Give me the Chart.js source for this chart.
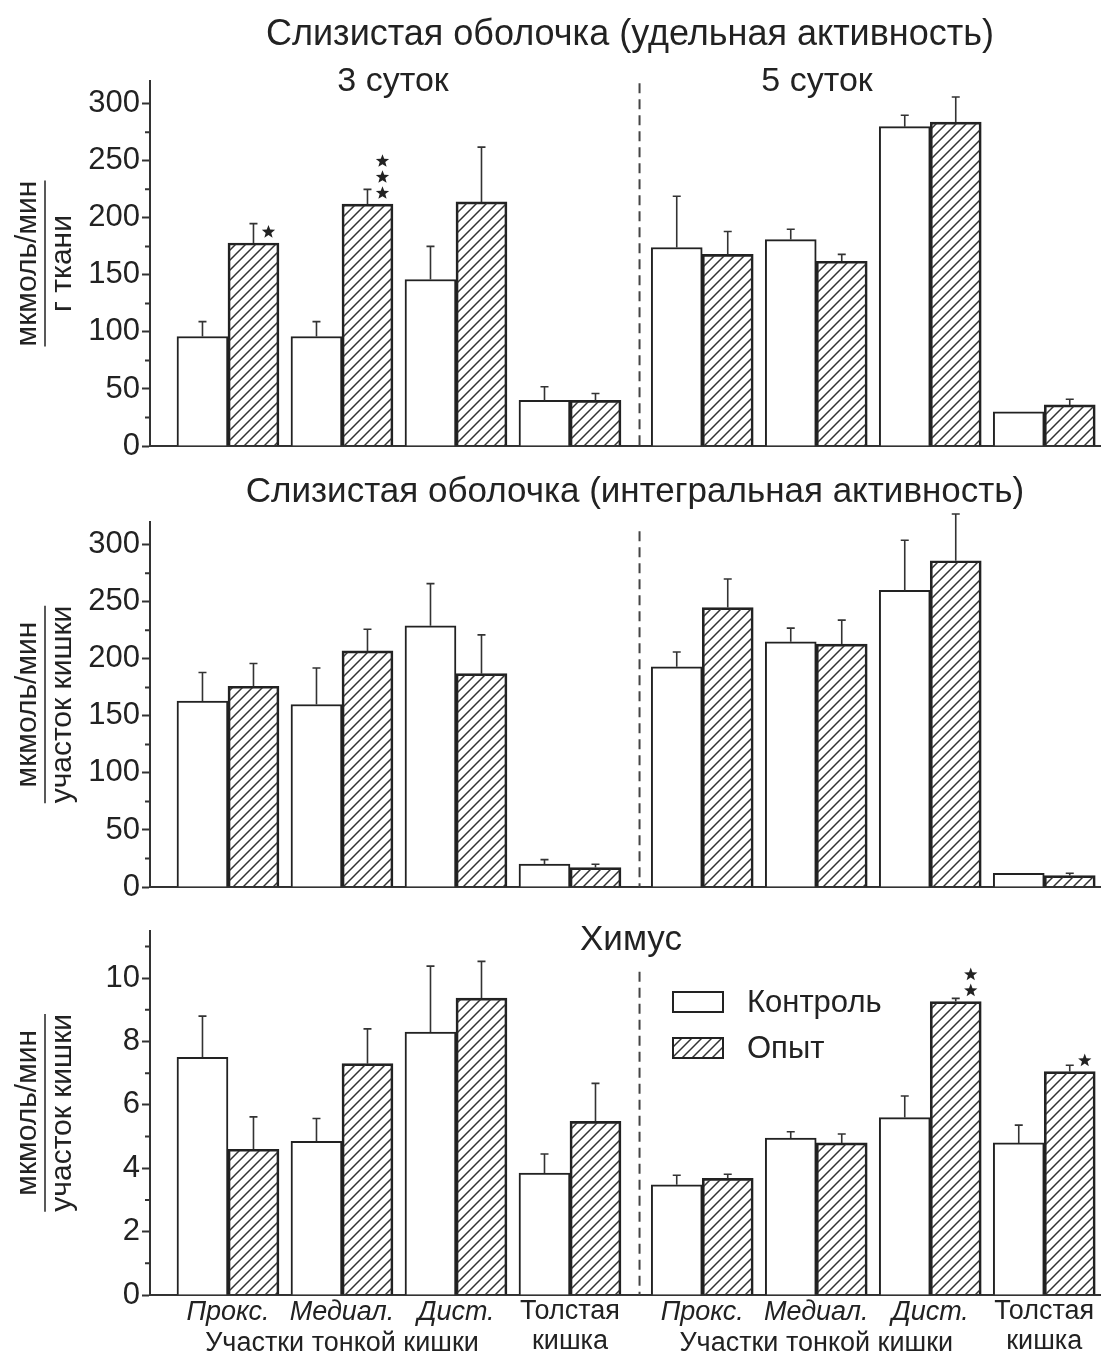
<!DOCTYPE html>
<html>
<head>
<meta charset="utf-8">
<script src="https://cdn.jsdelivr.net/npm/chart.js@4.4.0/dist/chart.umd.min.js"></script>
<style>
  body { margin: 0; background: #fff; }
  #wrap { position: relative; width: 1102px; height: 1362px; }
  canvas { position: absolute; left: 0; }
</style>
</head>
<body>
<div id="wrap">
  <canvas id="c1" width="1102" height="470" style="top:0px"></canvas>
  <canvas id="c2" width="1102" height="440" style="top:470px"></canvas>
  <canvas id="c3" width="1102" height="452" style="top:910px"></canvas>
</div>
<script>
// categories (4 gut parts x 2 time points)
const xCats = ['Прокс.', 'Медиал.', 'Дист.', 'Толстая\nкишка', 'Прокс.', 'Медиал.', 'Дист.', 'Толстая\nкишка']
const italicCats = [true, true, true, false, true, true, true, false]
const seriesNames = ['Контроль', 'Опыт']

// Слизистая оболочка, удельная активность
const specCtrl = [96, 96, 146, 40, 174, 181, 280, 30]
const specCtrlErr = [13, 13, 29, 12, 45, 9, 10, 0]
const specExp = [178, 212, 214, 40, 168, 162, 284, 36]
const specExpErr = [17, 13, 48, 6, 20, 6, 22, 5]
const specStars = [1, 3, 0, 0, 0, 0, 0, 0]

// Слизистая оболочка, интегральная активность
const intCtrl = [163, 160, 229, 20, 193, 215, 260, 12]
const intCtrlErr = [25, 32, 37, 4, 13, 12, 44, 0]
const intExp = [176, 207, 187, 17, 245, 213, 286, 10]
const intExpErr = [20, 19, 34, 3, 25, 21, 41, 2]

// Химус
const chyCtrl = [7.5, 4.85, 8.3, 3.85, 3.48, 4.95, 5.6, 4.8]
const chyCtrlErr = [1.3, 0.72, 2.08, 0.6, 0.3, 0.2, 0.68, 0.56]
const chyExp = [4.6, 7.3, 9.37, 5.48, 3.68, 4.8, 9.26, 7.05]
const chyExpErr = [1.02, 1.1, 1.16, 1.2, 0.13, 0.28, 0.1, 0.2]
const chyStars = [0, 0, 0, 0, 0, 0, 2, 1]

const actTicks = [0, 50, 100, 150, 200, 250, 300]
const chyTicks = [0, 2, 4, 6, 8, 10]

const FONT = '"Liberation Sans", Arial, sans-serif'
const INK = '#222'
const splitGap = 0.16      // extra space between the 3-day and 5-day halves
const splitX = 3.61        // dashed divider
const groupX = xCats.map((c, i) => i + (i >= 4 ? splitGap : 0))

function makeHatch() {
    const s = 10
    const c = document.createElement('canvas')
    c.width = s; c.height = s
    const g = c.getContext('2d')
    g.strokeStyle = '#333'
    g.lineWidth = 1.5
    g.beginPath()
    g.moveTo(0, s); g.lineTo(s, 0)
    g.moveTo(-s / 2, s / 2); g.lineTo(s / 2, -s / 2)
    g.moveTo(s / 2, s * 1.5); g.lineTo(s * 1.5, s / 2)
    g.stroke()
    return g.createPattern(c, 'repeat')
}
const hatch = makeHatch()

function star(ctx, x, y, r) {
    ctx.beginPath()
    for (let k = 0; k < 10; k++) {
        const a = -Math.PI / 2 + k * Math.PI / 5
        const rr = k % 2 ? r * 0.42 : r
        ctx.lineTo(x + rr * Math.cos(a), y + rr * Math.sin(a))
    }
    ctx.closePath()
    ctx.fill()
}

function decor(p) {
    return {
        id: 'decor',
        afterDraw(chart) {
            const ctx = chart.ctx
            const xs = chart.scales.x, ys = chart.scales.y
            const area = chart.chartArea
            ctx.save()

            // minor ticks
            const step = p.yTicks[1] - p.yTicks[0]
            ctx.strokeStyle = '#333'; ctx.lineWidth = 2
            ctx.beginPath()
            p.yTicks.forEach(v => {
                const m = v + step / 2
                if (m > p.yMax) return
                const y = ys.getPixelForValue(m)
                ctx.moveTo(area.left, y); ctx.lineTo(area.left - 5, y)
            })
            ctx.stroke()

            // divider
            const dx = xs.getPixelForValue(splitX)
            ctx.setLineDash([10, 6]); ctx.strokeStyle = '#444'; ctx.lineWidth = 2
            ctx.beginPath()
            ctx.moveTo(dx, ys.getPixelForValue(p.dashFrom)); ctx.lineTo(dx, area.bottom)
            ctx.stroke()
            ctx.setLineDash([])

            // error bars (upper only) and significance marks
            chart.data.datasets.forEach((ds, di) => {
                const meta = chart.getDatasetMeta(di)
                meta.data.forEach((bar, i) => {
                    const e = ds.err[i]
                    if (e) {
                        const yt = ys.getPixelForValue(ds.data[i].y + e)
                        ctx.strokeStyle = '#333'; ctx.lineWidth = 1.6
                        ctx.beginPath()
                        ctx.moveTo(bar.x, bar.y); ctx.lineTo(bar.x, yt)
                        ctx.moveTo(bar.x - 4, yt); ctx.lineTo(bar.x + 4, yt)
                        ctx.stroke()
                    }
                    const n = ds.stars ? ds.stars[i] : 0
                    ctx.fillStyle = INK
                    for (let k = 0; k < n; k++) star(ctx, bar.x + 15, bar.y - 11 - k * 16, 7)
                })
            })

            // titles
            ctx.fillStyle = INK
            ctx.textAlign = 'center'; ctx.textBaseline = 'middle'
            p.titles.forEach(t => {
                ctx.font = t[3] + 'px ' + FONT
                ctx.fillText(t[0], t[1], t[2])
            })

            // y title as a fraction
            const cy = (area.top + area.bottom) / 2
            ctx.save()
            ctx.translate(0, cy)
            ctx.rotate(-Math.PI / 2)
            ctx.font = '30px ' + FONT
            const L = Math.max(ctx.measureText(p.yTitle[0]).width, ctx.measureText(p.yTitle[1]).width)
            ctx.fillText(p.yTitle[0], 0, 28)
            ctx.fillText(p.yTitle[1], 0, 63)
            ctx.strokeStyle = INK; ctx.lineWidth = 1.5
            ctx.beginPath(); ctx.moveTo(-L / 2, 45); ctx.lineTo(L / 2, 45); ctx.stroke()
            ctx.restore()

            // category labels under the last panel
            if (p.xLabels) {
                xCats.forEach((c, i) => {
                    const x = xs.getPixelForValue(groupX[i])
                    ctx.font = (italicCats[i] ? 'italic ' : '') + '27px ' + FONT
                    c.split('\n').forEach((line, k) => ctx.fillText(line, x, area.bottom + 17 + k * 30))
                })
                ctx.font = '27px ' + FONT
                ;[[0, 2], [4, 6]].forEach(r => {
                    const x = (xs.getPixelForValue(groupX[r[0]]) + xs.getPixelForValue(groupX[r[1]])) / 2
                    ctx.fillText('Участки тонкой кишки', x, area.bottom + 49)
                })
            }

            // legend
            if (p.legend) {
                chart.data.datasets.forEach((ds, k) => {
                    const bx = p.legend[0], by = p.legend[1] + k * 46
                    ctx.fillStyle = ds.backgroundColor
                    ctx.fillRect(bx, by, 50, 20)
                    ctx.strokeStyle = INK; ctx.lineWidth = 2
                    ctx.strokeRect(bx, by, 50, 20)
                    ctx.fillStyle = INK
                    ctx.textAlign = 'left'
                    ctx.font = '31px ' + FONT
                    ctx.fillText(ds.label, bx + 74, by + 11)
                })
            }
            ctx.restore()
        }
    }
}

function makePanel(id, p) {
    const pts = arr => arr.map((v, i) => ({ x: groupX[i], y: v }))
    return new Chart(document.getElementById(id), {
        type: 'bar',
        data: {
            datasets: [
                { label: seriesNames[0], data: pts(p.ctrl), err: p.ctrlErr, backgroundColor: '#fff', borderColor: INK, borderWidth: 2, barThickness: 51 },
                { label: seriesNames[1], data: pts(p.exp), err: p.expErr, stars: p.stars, backgroundColor: hatch, borderColor: INK, borderWidth: 2, barThickness: 51 }
            ]
        },
        options: {
            responsive: false,
            animation: false,
            layout: { padding: { top: p.pad[0], bottom: p.pad[1], left: 0, right: 2 } },
            plugins: { legend: { display: false }, tooltip: { enabled: false } },
            scales: {
                x: {
                    type: 'linear', min: -0.684, max: 7.649, offset: false,
                    grid: { display: false, offset: false }, ticks: { display: false },
                    border: { color: '#333', width: 2 },
                    afterFit: s => { s.height = 0 }
                },
                y: {
                    min: 0, max: p.yMax,
                    afterBuildTicks: s => { s.ticks = p.yTicks.map(v => ({ value: v })) },
                    afterFit: s => { s.width = 150 },
                    grid: { drawOnChartArea: false, tickLength: 8, tickColor: '#333', tickWidth: 2 },
                    border: { color: '#333', width: 2 },
                    ticks: { color: INK, padding: 2, font: { size: 31, family: FONT } }
                }
            }
        },
        plugins: [decor(p)]
    })
}

makePanel('c1', {
    ctrl: specCtrl, ctrlErr: specCtrlErr, exp: specExp, expErr: specExpErr, stars: specStars,
    yMax: 320, yTicks: actTicks, pad: [81, 24], dashFrom: 318,
    yTitle: ['мкмоль/мин', 'г ткани'],
    titles: [['Слизистая оболочка (удельная активность)', 630, 35, 36], ['3 суток', 393, 82, 34], ['5 суток', 817, 82, 34]]
})
makePanel('c2', {
    ctrl: intCtrl, ctrlErr: intCtrlErr, exp: intExp, expErr: intExpErr,
    yMax: 320, yTicks: actTicks, pad: [52, 23], dashFrom: 312,
    yTitle: ['мкмоль/мин', 'участок кишки'],
    titles: [['Слизистая оболочка (интегральная активность)', 635, 22, 35]]
})
makePanel('c3', {
    ctrl: chyCtrl, ctrlErr: chyCtrlErr, exp: chyExp, expErr: chyExpErr, stars: chyStars,
    yMax: 11.5, yTicks: chyTicks, pad: [18, 67], dashFrom: 10.2,
    yTitle: ['мкмоль/мин', 'участок кишки'],
    titles: [['Химус', 631, 30, 35]],
    xLabels: true,
    legend: [673, 82]
})
</script>
</body>
</html>
